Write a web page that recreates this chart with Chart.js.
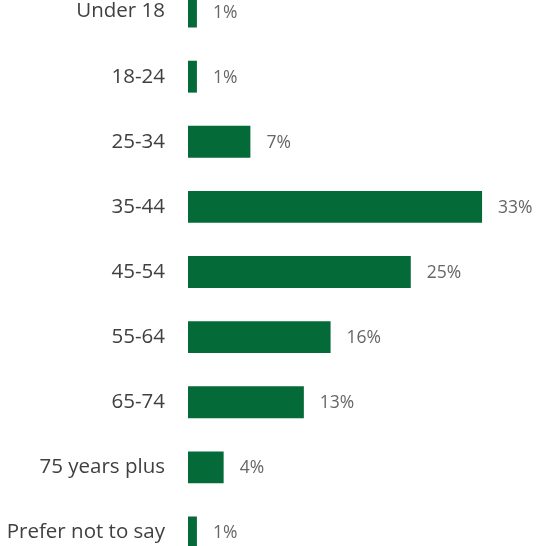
<!DOCTYPE html>
<html>
<head>
<meta charset="utf-8">
<script src="https://cdn.jsdelivr.net/npm/chart.js@4"></script>
<style>
  html, body { margin: 0; padding: 0; background: #fff; overflow: hidden; }
  #chart { position: absolute; left: 0; top: -21px; }
</style>
</head>
<body>
<canvas id="chart" width="540" height="586"></canvas>
<script>
const ageGroups = [
  'Under 18', '18-24', '25-34', '35-44', '45-54',
  '55-64', '65-74', '75 years plus', 'Prefer not to say',
];
const shares = [1, 1, 7, 33, 25, 16, 13, 4, 1];

// draws the "n%" label just right of each bar
const valueLabels = {
  id: 'valueLabels',
  afterDatasetsDraw(chart) {
    const { ctx } = chart;
    const meta = chart.getDatasetMeta(0);
    ctx.save();
    ctx.font = '17.5px "Open Sans"';
    ctx.fillStyle = '#666666';
    ctx.textAlign = 'left';
    ctx.textBaseline = 'middle';
    meta.data.forEach((bar, i) => {
      ctx.fillText(shares[i] + '%', bar.x + 16, bar.y + 1);
    });
    ctx.restore();
  },
};

new Chart(document.getElementById('chart'), {
  type: 'bar',
  data: {
    labels: ageGroups,
    datasets: [
      {
        data: shares,
        backgroundColor: '#046A38',
        borderWidth: 0,
        categoryPercentage: 1,
        barPercentage: 0.49,
      },
    ],
  },
  options: {
    indexAxis: 'y',
    responsive: false,
    animation: false,
    layout: { padding: 0 },
    scales: {
      x: {
        display: false,
        min: 0,
        max: 39.5,
      },
      y: {
        grid: { display: false, drawTicks: false },
        border: { display: false },
        ticks: {
          padding: 23,
          color: '#404040',
          font: { family: 'Open Sans', size: 20.5 },
        },
        afterFit(axis) {
          axis.width = 188;
          axis.paddingTop = 0;
          axis.paddingBottom = 0;
        },
      },
    },
    plugins: {
      legend: { display: false },
      tooltip: { enabled: false },
    },
  },
  plugins: [valueLabels],
});
</script>
</body>
</html>
